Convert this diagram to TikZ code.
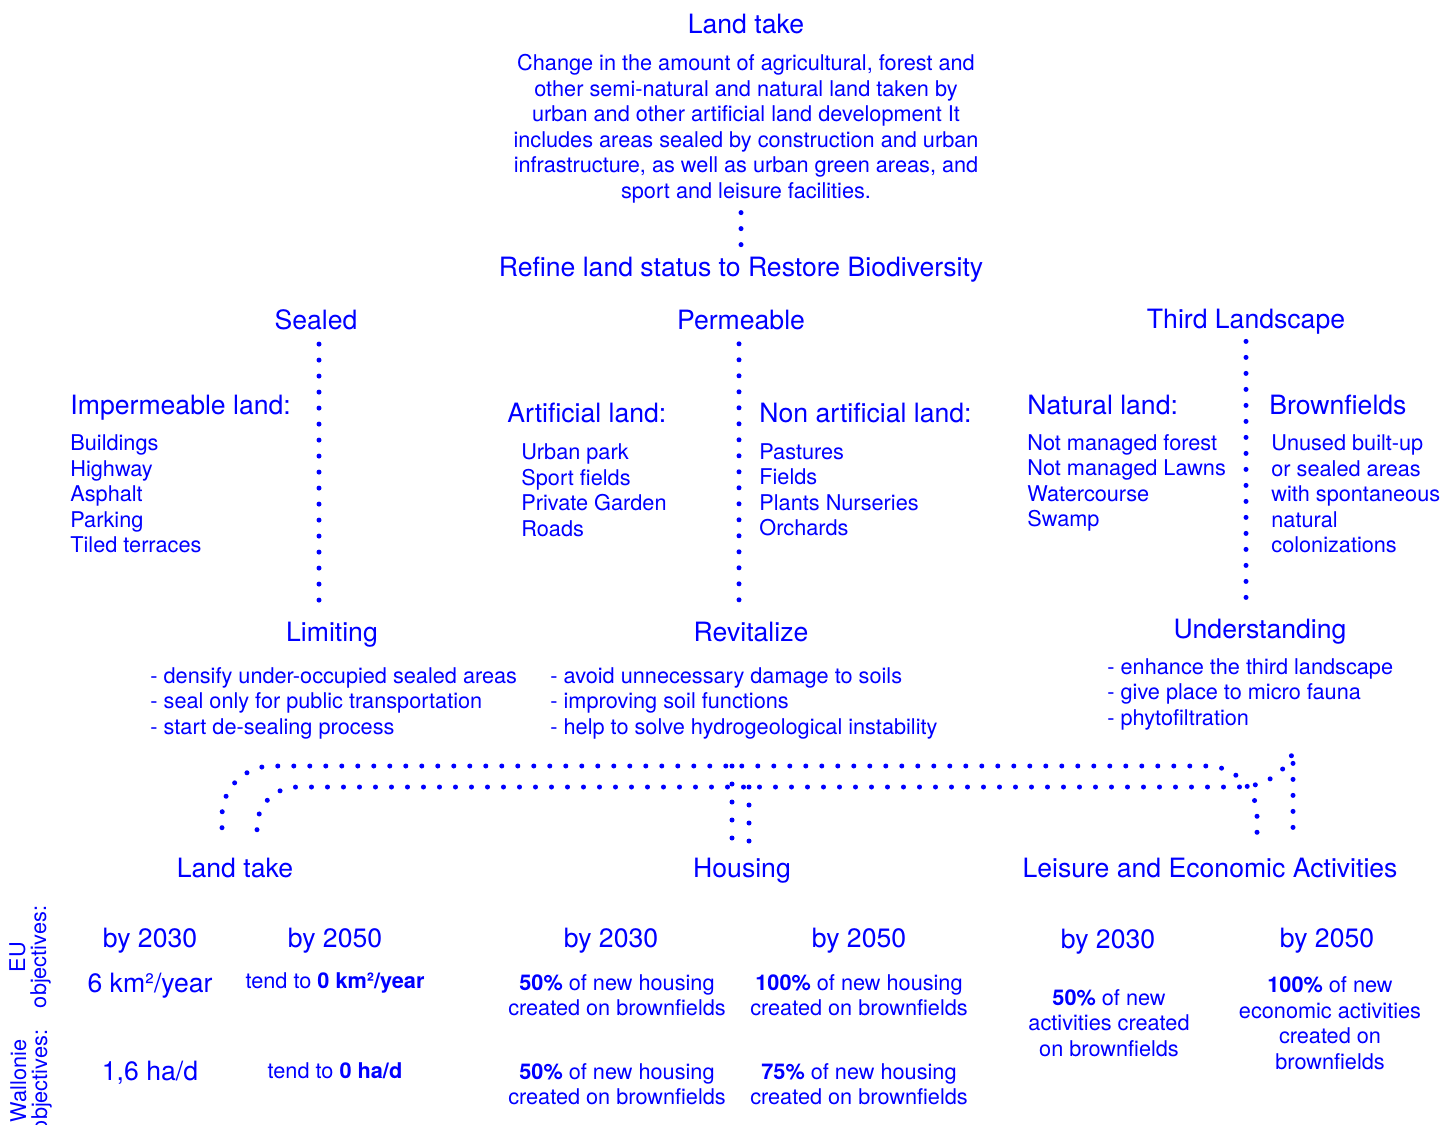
\documentclass[tikz,border=0pt]{standalone}
\usepackage{fontspec}
\setmainfont{TeX Gyre Heros}
\usetikzlibrary{positioning}

\begin{document}
\begin{tikzpicture}[x=0.5pt, y=-0.5pt,
    every node/.style={inner sep=0pt, text=blue},
    head/.style={font=\fontsize{13.3}{16}\selectfont},
    txt/.style={font=\fontsize{10.85}{12.75}\selectfont},
    listing/.style={txt, align=left, anchor=west},
    sidelabel/.style={font=\fontsize{10.85}{10.5}\selectfont, align=center, rotate=90},
    dots/.style={blue, line width=2.5pt, line cap=round, dash pattern=on 0pt off 8pt}]
    \useasboundingbox (0,0) rectangle (1454,1124);

    % definition
    \node[head] (title) at (746,24) {Land take};
    \node[txt, align=center] (desc) at (746,129) {Change in the amount of agricultural, forest and\\
      other semi-natural and natural land taken by\\
      urban and other artificial land development It\\
      includes areas sealed by construction and urban\\
      infrastructure, as well as urban green areas, and\\
      sport and leisure facilities.};
    \node[head] (refine) at (741,270) {Refine land status to Restore Biodiversity};
    \draw[dots, shorten <=4.5pt, shorten >=4.7pt] (desc.south -| refine) -- (refine);

    % land status
    \node[head] (sealed) at (316,320) {Sealed};
    \node[head] (perm) at (741,320) {Permeable};
    \node[head] (third) at (1246,322) {Third Landscape};

    \node[head, anchor=west] (impland) at (70,408) {Impermeable land:};
    \node[listing] (implist) at (70,494) {Buildings\\Highway\\Asphalt\\Parking\\Tiled terraces};
    \node[head, anchor=west] (artland) at (507,413) {Artificial land:};
    \node[listing] (artlist) at (521,490) {Urban park\\Sport fields\\Private Garden\\Roads};
    \node[head, anchor=west] (nonart) at (759,413) {Non artificial land:};
    \node[listing] (nonlist) at (759,490) {Pastures\\Fields\\Plants Nurseries\\Orchards};
    \node[head, anchor=west] (natland) at (1027,405) {Natural land:};
    \node[listing] (natlist) at (1027,483) {Not managed forest\\Not managed Lawns\\Watercourse\\Swamp};
    \node[head, anchor=west] (brown) at (1269,405) {Brownfields};
    \node[listing] (brownlist) at (1271,494) {Unused built-up\\or sealed areas\\with spontaneous\\natural\\colonizations};

    % actions
    \node[head] (limiting) at (332,635) {Limiting};
    \node[listing] (limlist) at (150,703) {- densify under-occupied sealed areas\\
      - seal only for public transportation\\- start de-sealing process};
    \node[head] (revit) at (751,632) {Revitalize};
    \node[listing] (revlist) at (550,703) {- avoid unnecessary damage to soils\\
      - improving soil functions\\- help to solve hydrogeological instability};
    \node[head] (underst) at (1260,632) {Understanding};
    \node[listing] (undlist) at (1107,694) {- enhance the third landscape\\
      - give place to micro fauna\\- phytofiltration};

    \draw[dots, shorten <=6.75pt, shorten >=10pt] ([xshift=1.5pt]sealed.south) -- ([xshift=1.5pt]sealed.south |- limiting.north);
    \draw[dots, shorten <=6.75pt, shorten >=9.5pt] ([xshift=-1pt]perm.south) -- ([xshift=-1pt]perm.south |- revit.north);
    \draw[dots, shorten <=3.2pt, shorten >=8.2pt] (third.south) -- (third.south |- underst.north);

    % objectives
    \node[head] (landtake) at (235,868) {Land take};
    \node[head] (housing) at (742,871) {Housing};
    \node[head] (leisure) at (1210,868) {Leisure and Economic Activities};

    \node[sidelabel] (eu) at (30,957) {EU\\objectives:};
    \node[sidelabel] (wal) at (31,1081) {Wallonie\\objectives:};

    \node[head] (lt30) at (150,941) {by 2030};
    \node[head] (lt50) at (335,941) {by 2050};
    \node[head] (ho30) at (611,941) {by 2030};
    \node[head] (ho50) at (859,941) {by 2050};
    \node[head] (le30) at (1108,942) {by 2030};
    \node[head] (le50) at (1327,941) {by 2050};

    \node[head] (lteu30) at (150,986) {6 km²/year};
    \node[txt] (lteu50) at (335,983) {tend to \textbf{0 km²/year}};
    \node[head] (ltwa30) at (150,1073) {1,6 ha/d};
    \node[txt] (ltwa50) at (335,1071) {tend to \textbf{0 ha/d}};

    \node[txt, align=center] (hoeu30) at (617,995) {\textbf{50\%} of new housing\\created on brownfields};
    \node[txt, align=center] (hoeu50) at (859,995) {\textbf{100\%} of new housing\\created on brownfields};
    \node[txt, align=center] (howa30) at (617,1084) {\textbf{50\%} of new housing\\created on brownfields};
    \node[txt, align=center] (howa50) at (859,1084) {\textbf{75\%} of new housing\\created on brownfields};

    \node[txt, align=center] (leeu30) at (1109,1023) {\textbf{50\%} of new\\activities created\\on brownfields};
    \node[txt, align=center] (leeu50) at (1330,1023) {\textbf{100\%} of new\\economic activities\\created on\\brownfields};

    % dotted links between the three objectives
    \coordinate (rowA) at (741,766);
    \coordinate (rowB) at (741,787);
    \coordinate (outL) at ([xshift=-6.5pt, yshift=15pt]landtake.north);
    \coordinate (inL) at ([xshift=11pt, yshift=14pt]landtake.north);
    \coordinate (outH) at ([xshift=-5pt, yshift=9.75pt]housing.north);
    \coordinate (inH) at ([xshift=3.5pt, yshift=8.5pt]housing.north);
    \coordinate (outR) at ([xshift=23.5pt, yshift=6.5pt]leisure.north);
    \coordinate (inR) at ([xshift=41.5pt, yshift=12.5pt]leisure.north);
    \coordinate (inTop) at ([yshift=40.5pt]inR);

    \draw[dots, rounded corners=25pt] (outL) |- (rowA) -| (outR);
    \draw[dots, dash pattern=on 0pt off 9pt] (outH |- rowA) -- (outH);
    \draw[dots] (inL) [rounded corners=20pt] |- (rowB) [sharp corners] -- (1238,787)
      .. controls (1262,787) and (1285,775) .. (inTop) -- (inR);
    \draw[dots, dash pattern=on 0pt off 9pt] (inH |- rowB) -- (inH);
\end{tikzpicture}
\end{document}
